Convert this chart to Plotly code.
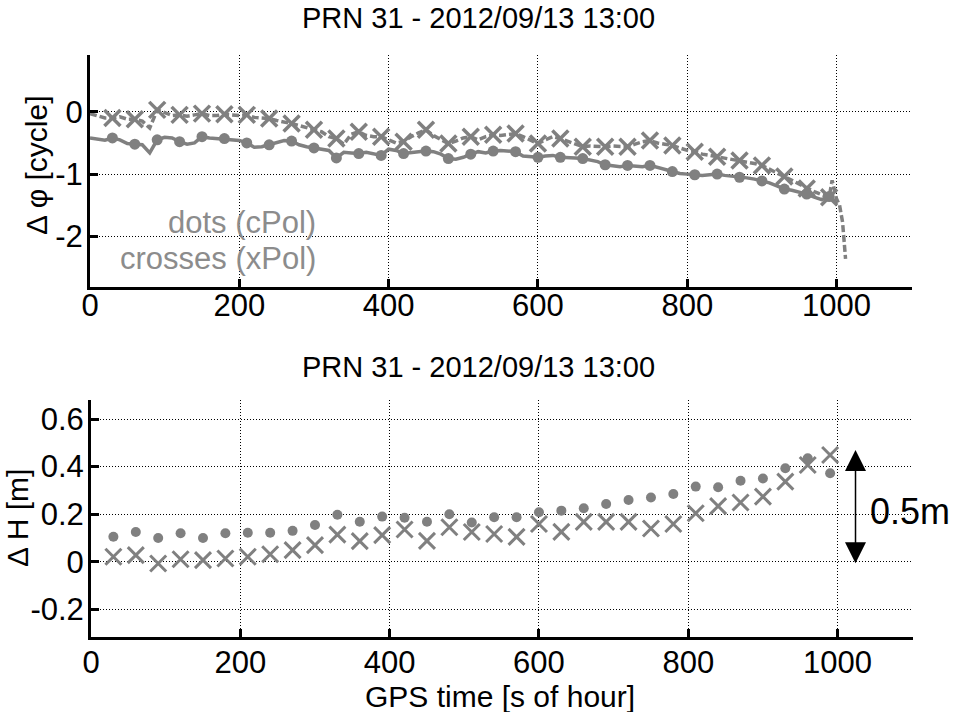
import plotly.graph_objects as go

# ---------------- data ----------------
title_text = "PRN 31 - 2012/09/13 13:00"

# top panel: carrier phase difference [cycle], sampled every 10 s
t_cpol = list(range(0, 1001, 10))
cpol_phase = [
    -0.42, -0.44, -0.455, -0.42, -0.45, -0.51, -0.52, -0.53, -0.66, -0.45,
    -0.41, -0.42, -0.48, -0.52, -0.50, -0.40, -0.42, -0.43, -0.43, -0.44,
    -0.46, -0.50, -0.57, -0.56, -0.53, -0.49, -0.46, -0.47, -0.53, -0.56,
    -0.58, -0.59, -0.62, -0.74, -0.65, -0.66, -0.67, -0.65, -0.68, -0.70,
    -0.60, -0.62, -0.67, -0.65, -0.64, -0.63, -0.64, -0.68, -0.75, -0.76,
    -0.73, -0.68, -0.64, -0.66, -0.63, -0.62, -0.63, -0.64, -0.71, -0.72,
    -0.73, -0.71, -0.70, -0.73, -0.73, -0.74, -0.75, -0.77, -0.80, -0.85,
    -0.87, -0.88, -0.86, -0.87, -0.88, -0.86, -0.89, -0.93, -0.96, -0.99,
    -1.00, -1.01, -1.02, -1.01, -1.00, -1.02, -1.03, -1.05, -1.06, -1.08,
    -1.11, -1.14, -1.19, -1.24, -1.26, -1.29, -1.32, -1.37, -1.41, -1.36,
    -1.45,
]

t_xpol = list(range(0, 991, 10)) + [994, 1000, 1004, 1008, 1012]
xpol_phase = [
    -0.03, -0.06, -0.10, -0.10, -0.08, -0.12, -0.12, -0.15, -0.26, 0.03,
    -0.02, -0.06, -0.05, -0.07, -0.05, -0.03, -0.06, -0.06, -0.04, -0.05,
    -0.06, -0.05, -0.09, -0.10, -0.11, -0.14, -0.16, -0.19, -0.22, -0.26,
    -0.29, -0.32, -0.40, -0.43, -0.52, -0.36, -0.32, -0.38, -0.40, -0.40,
    -0.45, -0.50, -0.48, -0.40, -0.34, -0.29, -0.38, -0.45, -0.51, -0.47,
    -0.42, -0.40, -0.45, -0.40, -0.37, -0.38, -0.36, -0.35, -0.40, -0.45,
    -0.51, -0.45, -0.40, -0.43, -0.47, -0.52, -0.56, -0.55, -0.56, -0.56,
    -0.55, -0.56, -0.56, -0.52, -0.48, -0.46, -0.50, -0.52, -0.54, -0.58,
    -0.62, -0.64, -0.68, -0.70, -0.72, -0.74, -0.76, -0.78, -0.80, -0.83,
    -0.86, -0.92, -0.98, -1.04, -1.10, -1.17, -1.23, -1.28, -1.33, -1.37,
    -1.10, -1.40, -1.50, -1.77, -2.36,
]

# bottom panel: height difference [m], every 30 s
t_height = list(range(30, 991, 30))
cpol_height = [
    0.105, 0.125, 0.100, 0.120, 0.100, 0.120, 0.122, 0.122, 0.130, 0.155,
    0.198, 0.168, 0.190, 0.185, 0.168, 0.200, 0.165, 0.187, 0.187, 0.208,
    0.215, 0.225, 0.243, 0.260, 0.270, 0.285, 0.316, 0.313, 0.341, 0.350,
    0.393, 0.435, 0.372,
]
xpol_height = [
    0.021, 0.028, -0.007, 0.011, 0.007, 0.014, 0.021, 0.032, 0.049, 0.070,
    0.114, 0.087, 0.112, 0.136, 0.088, 0.145, 0.125, 0.117, 0.105, 0.159,
    0.126, 0.168, 0.168, 0.168, 0.140, 0.159, 0.204, 0.234, 0.249, 0.274,
    0.337, 0.407, 0.449,
]

x_ticks = [0, 200, 400, 600, 800, 1000]
x_ticktext = ["0", "200", "400", "600", "800", "1000"]
top_y_ticks = [-2, -1, 0]
top_y_ticktext = ["-2", "-1", "0"]
bot_y_ticks = [-0.2, 0, 0.2, 0.4, 0.6]
bot_y_ticktext = ["-0.2", "0", "0.2", "0.4", "0.6"]

arrow_x = 1024
arrow_lo = -0.012
arrow_hi = 0.47

# ---------------- styling ----------------
W, H = 955, 712
GRAY = "rgb(128,128,128)"
TXTGRAY = "rgb(140,140,140)"
FONT = "Liberation Sans, Arial, sans-serif"


def px(x):
    return x / W


def py(y):
    return 1 - y / H


# markers at the 30-s epochs of the phase series
mk_c = [(t, v) for t, v in zip(t_cpol, cpol_phase) if t % 30 == 0 and 30 <= t <= 990]
mk_x = [(t, v) for t, v in zip(t_xpol, xpol_phase) if t % 30 == 0 and 30 <= t <= 990]

fig = go.Figure()

fig.add_trace(go.Scatter(x=t_cpol, y=cpol_phase, mode="lines",
                         line=dict(color=GRAY, width=3.5), xaxis="x", yaxis="y"))
fig.add_trace(go.Scatter(x=[a for a, _ in mk_c], y=[b for _, b in mk_c], mode="markers",
                         marker=dict(color=GRAY, size=11, symbol="circle"),
                         xaxis="x", yaxis="y"))
fig.add_trace(go.Scatter(x=t_xpol, y=xpol_phase, mode="lines",
                         line=dict(color=GRAY, width=3.5, dash="7px,3px"),
                         xaxis="x", yaxis="y"))
fig.add_trace(go.Scatter(x=[a for a, _ in mk_x], y=[b for _, b in mk_x], mode="markers",
                         marker=dict(color=GRAY, size=16, symbol="x-thin",
                                     line=dict(color=GRAY, width=3.5)),
                         xaxis="x", yaxis="y"))

fig.add_trace(go.Scatter(x=t_height, y=cpol_height, mode="markers",
                         marker=dict(color=GRAY, size=10, symbol="circle"),
                         xaxis="x2", yaxis="y2"))
fig.add_trace(go.Scatter(x=t_height, y=xpol_height, mode="markers",
                         marker=dict(color=GRAY, size=16, symbol="x-thin",
                                     line=dict(color=GRAY, width=3)),
                         xaxis="x2", yaxis="y2"))

axis_common = dict(
    showline=True, linecolor="black", linewidth=3, mirror=False,
    ticks="inside", ticklen=8, tickwidth=2.5, tickcolor="black",
    showgrid=True, gridcolor="black", gridwidth=1, griddash="1px,2px",
    zeroline=False, tickfont=dict(family=FONT, size=31, color="black"),
    automargin=False,
)

fig.update_layout(
    width=W, height=H,
    margin=dict(l=0, r=0, t=0, b=0),
    paper_bgcolor="white", plot_bgcolor="white",
    showlegend=False,
    xaxis=dict(axis_common, domain=[px(90), px(912)], range=[0, 1101],
               tickvals=x_ticks, ticktext=x_ticktext, anchor="y",
               ticklabelstandoff=-11),
    yaxis=dict(axis_common, domain=[py(287), py(55)], range=[-2.81, 0.91],
               tickvals=top_y_ticks, ticktext=top_y_ticktext, anchor="x",
               ticklabelstandoff=-2),
    xaxis2=dict(axis_common, domain=[px(91), px(913)], range=[0, 1101],
                tickvals=x_ticks, ticktext=x_ticktext, anchor="y2",
                ticklabelstandoff=-4),
    yaxis2=dict(axis_common, domain=[py(637), py(400)], range=[-0.316, 0.68],
                tickvals=bot_y_ticks, ticktext=bot_y_ticktext, anchor="x2",
                ticklabelstandoff=-2),
)

ann = []
ann.append(dict(text=title_text, x=px(478), y=py(18), xref="paper", yref="paper",
                showarrow=False, font=dict(family=FONT, size=29, color="black"),
                xanchor="center", yanchor="middle"))
ann.append(dict(text=title_text, x=px(478), y=py(367), xref="paper", yref="paper",
                showarrow=False, font=dict(family=FONT, size=29, color="black"),
                xanchor="center", yanchor="middle"))
ann.append(dict(text="Δ φ [cycle]", x=px(36), y=py(165), xref="paper", yref="paper",
                showarrow=False, textangle=-90, font=dict(family=FONT, size=30, color="black"),
                xanchor="center", yanchor="middle"))
ann.append(dict(text="Δ H [m]", x=px(17), y=py(518), xref="paper", yref="paper",
                showarrow=False, textangle=-90, font=dict(family=FONT, size=30, color="black"),
                xanchor="center", yanchor="middle"))
ann.append(dict(text="GPS time [s of hour]", x=px(500), y=py(696), xref="paper", yref="paper",
                showarrow=False, font=dict(family=FONT, size=30, color="black"),
                xanchor="center", yanchor="middle"))
ann.append(dict(text="dots (cPol)", x=306, y=-1.77, xref="x", yref="y",
                showarrow=False, font=dict(family=FONT, size=31, color=TXTGRAY),
                xanchor="right", yanchor="middle"))
ann.append(dict(text="crosses (xPol)", x=306, y=-2.35, xref="x", yref="y",
                showarrow=False, font=dict(family=FONT, size=31, color=TXTGRAY),
                xanchor="right", yanchor="middle"))
ann.append(dict(text="0.5m", x=1041, y=0.21, xref="x2", yref="y2",
                showarrow=False, font=dict(family=FONT, size=36, color="black"),
                xanchor="left", yanchor="middle"))
ann.append(dict(x=arrow_x, y=arrow_hi, ax=arrow_x, ay=arrow_lo,
                xref="x2", yref="y2", axref="x2", ayref="y2", text="",
                showarrow=True, arrowhead=2, startarrowhead=2, arrowside="end+start",
                arrowsize=2.8, startarrowsize=2.8, arrowwidth=1.5, arrowcolor="black",
                standoff=0, startstandoff=0))
fig.update_layout(annotations=ann)

fig.write_html(
    "out.html",
    config={"displayModeBar": False},
    post_script="document.body.style.margin='0px';document.body.style.overflow='hidden';",
)
